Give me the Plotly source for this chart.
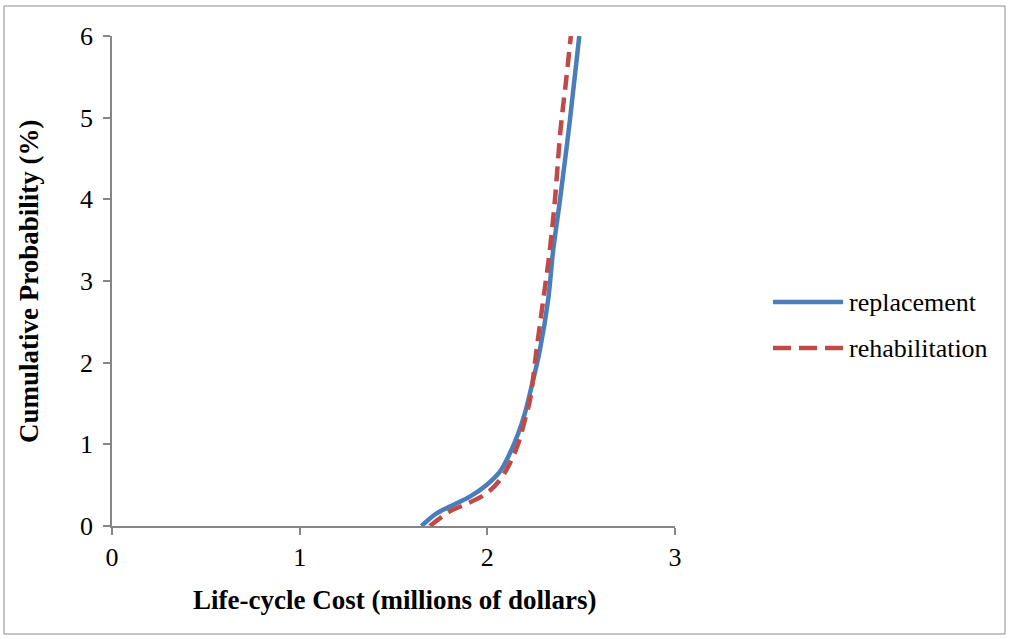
import plotly.graph_objects as go

# Data
replacement_cost = [1.649, 1.730, 1.818, 1.907, 1.996, 2.067, 2.120, 2.165, 2.200, 2.227, 2.280, 2.324, 2.351, 2.387, 2.440, 2.490]
replacement_prob = [0.000, 0.155, 0.257, 0.359, 0.502, 0.665, 0.890, 1.135, 1.380, 1.625, 2.155, 2.770, 3.380, 3.990, 4.970, 6.000]

rehabilitation_cost = [1.694, 1.750, 1.800, 1.889, 1.996, 2.067, 2.120, 2.165, 2.200, 2.227, 2.262, 2.298, 2.333, 2.360, 2.390, 2.420, 2.445]
rehabilitation_prob = [0.000, 0.100, 0.180, 0.270, 0.400, 0.563, 0.767, 1.010, 1.300, 1.540, 2.155, 2.770, 3.380, 3.990, 4.850, 5.460, 6.000]

x_ticks = [0, 1, 2, 3]
y_ticks = [0, 1, 2, 3, 4, 5, 6]

series_names = ["replacement", "rehabilitation"]
BLUE = "#4A7EBB"
RED = "#BE4B48"
FONT = "Liberation Serif"

fig = go.Figure()
fig.add_trace(go.Scatter(x=replacement_cost, y=replacement_prob, mode="lines",
                         name=series_names[0], line=dict(color=BLUE, width=4.5, shape="spline", smoothing=1.0),
                         cliponaxis=False, showlegend=False))
fig.add_trace(go.Scatter(x=rehabilitation_cost, y=rehabilitation_prob, mode="lines",
                         name=series_names[1], line=dict(color=RED, width=4.5, dash="15px,8px", shape="spline", smoothing=1.0),
                         cliponaxis=False, showlegend=False))

W, H = 1010, 639
L, T = 112, 36
pw, ph = 563, 490
R = W - L - pw
B = H - T - ph

def px_x(p):
    return (p - L) / pw

def px_y(p):
    return (T + ph - p) / ph

axis_common = dict(showgrid=False, zeroline=False, showline=True, linecolor="#868686", linewidth=1.5,
                   ticks="outside", ticklen=7, tickwidth=1.5, tickcolor="#868686",
                   tickfont=dict(family=FONT, size=26, color="black"))

fig.update_xaxes(range=[0, 3], tickvals=x_ticks, ticktext=[str(v) for v in x_ticks], **axis_common)
fig.update_yaxes(range=[0, 6], tickvals=y_ticks, ticktext=[str(v) for v in y_ticks],
                 ticklabelstandoff=5, **axis_common)

shapes = [
    dict(type="rect", xref="paper", yref="paper", x0=px_x(4), x1=px_x(1005), y0=px_y(634), y1=px_y(6),
         line=dict(color="#8C8C8C", width=1), fillcolor="rgba(0,0,0,0)", layer="below"),
    dict(type="line", xref="paper", yref="paper", x0=px_x(773), x1=px_x(843), y0=px_y(302), y1=px_y(302),
         line=dict(color=BLUE, width=4.5)),
    dict(type="line", xref="paper", yref="paper", x0=px_x(773), x1=px_x(843), y0=px_y(348), y1=px_y(348),
         line=dict(color=RED, width=4.5, dash="18px,8px")),
]

annotations = [
    dict(text="<b>Life-cycle Cost (millions of dollars)</b>", xref="paper", yref="paper",
         x=px_x(394), y=px_y(600), xanchor="center", yanchor="middle", showarrow=False,
         font=dict(family=FONT, size=27, color="black")),
    dict(text="<b>Cumulative Probability (%)</b>", xref="paper", yref="paper",
         x=px_x(29), y=px_y(281), xanchor="center", yanchor="middle", textangle=-90, showarrow=False,
         font=dict(family=FONT, size=27, color="black")),
    dict(text=series_names[0], xref="paper", yref="paper", x=px_x(847), y=px_y(302),
         xanchor="left", yanchor="middle", showarrow=False, font=dict(family=FONT, size=26, color="black")),
    dict(text=series_names[1], xref="paper", yref="paper", x=px_x(847), y=px_y(348),
         xanchor="left", yanchor="middle", showarrow=False, font=dict(family=FONT, size=26, color="black")),
]

fig.update_layout(width=W, height=H, margin=dict(l=L, r=R, t=T, b=B, autoexpand=False),
                  paper_bgcolor="white", plot_bgcolor="white", showlegend=False,
                  shapes=shapes, annotations=annotations)

fig.write_html("out.html", config={"displayModeBar": False},
               post_script="document.body.style.margin='0';document.body.style.overflow='hidden';")
